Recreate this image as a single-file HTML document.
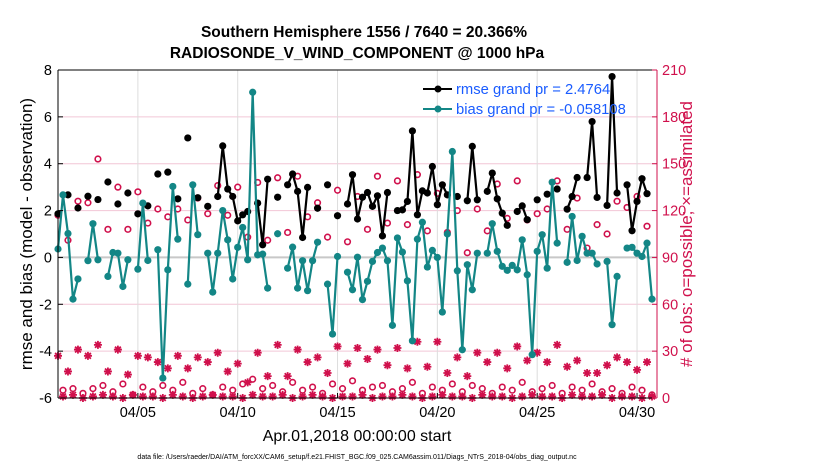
<!DOCTYPE html>
<html><head><meta charset="utf-8"><style>
body{margin:0;background:#fff;font-family:"Liberation Sans",sans-serif}
svg text{font-family:"Liberation Sans",sans-serif}
</style></head><body>
<svg id="chart" width="830" height="470">
<text x="364" y="37" text-anchor="middle" font-size="15.5" font-weight="bold">Southern Hemisphere 1556 / 7640 = 20.366%</text>
<text x="357" y="58" text-anchor="middle" font-size="15.5" font-weight="bold">RADIOSONDE_V_WIND_COMPONENT @ 1000 hPa</text>
<g id="grid"></g><g id="marks"></g><g id="axes"></g>
<text transform="translate(32,234) rotate(-90)" text-anchor="middle" font-size="17">rmse and bias (model - observation)</text>
<text transform="translate(692,234) rotate(-90)" text-anchor="middle" font-size="17" fill="#d0104c"># of obs: o=possible; ×=assimilated</text>
<text x="357" y="441" text-anchor="middle" font-size="16">Apr.01,2018 00:00:00 start</text>
<text x="357" y="459" text-anchor="middle" font-size="7">data file: /Users/raeder/DAI/ATM_forcXX/CAM6_setup/f.e21.FHIST_BGC.f09_025.CAM6assim.011/Diags_NTrS_2018-04/obs_diag_output.nc</text>
<g>
<line x1="423" y1="89" x2="452" y2="89" stroke="#000" stroke-width="2"/><circle cx="438" cy="89" r="3.5" fill="#000"/>
<text x="456" y="94" font-size="14.8" fill="#1a5cff">rmse grand pr = 2.4764</text>
<line x1="423" y1="109" x2="452" y2="109" stroke="#138686" stroke-width="2"/><circle cx="438" cy="109" r="3.5" fill="#138686"/>
<text x="456" y="114" font-size="14.8" fill="#1a5cff">bias grand pr = -0.058108</text>
</g>
</svg>
<script>
const xTickLabels=["04/05","04/10","04/15","04/20","04/25","04/30"];
const xTickDays=[4,9,14,19,24,29];
const yTicks=[-6,-4,-2,0,2,4,6,8];
const rTicks=[0,30,60,90,120,150,180,210];
const rmse=[1.86,null,2.67,null,2.11,null,2.61,null,2.47,null,3.22,null,2.28,null,2.75,null,1.86,null,2.2,null,3.56,null,3.64,null,2.5,null,5.1,null,2.55,null,2.18,null,2.6,4.76,2.92,2.6,1.56,1.82,1.96,null,2.32,0.54,3.34,null,2.57,null,3.1,3.56,2.82,0.85,2.99,null,2.1,null,3.1,null,1.78,null,2.28,3.53,1.64,2.57,2.77,2.18,2.63,0.92,2.77,null,2.0,2.03,2.39,5.4,1.82,2.84,2.75,3.88,2.25,3.1,2.67,null,2.6,null,2.42,4.74,2.46,null,2.82,3.6,2.5,1.89,1.37,null,1.96,2.2,1.61,null,2.46,null,2.7,null,2.92,null,2.06,2.6,3.41,null,3.41,5.8,2.56,null,2.22,7.72,2.75,null,3.1,1.14,2.39,3.36,2.72,null];
const bias=[0.36,2.67,1.02,-1.78,-0.92,null,-0.14,1.44,-0.1,null,-0.81,0.21,0.18,-1.24,-0.1,null,-0.5,2.32,-0.13,null,0.33,-5.15,-0.53,3.03,0.78,null,-1.14,3.1,0.97,null,0.18,-1.48,0.18,2.0,0.75,-0.92,0.43,1.28,-0.1,7.05,0.11,0.14,-1.31,null,1.01,null,-0.46,0.44,-1.31,-0.14,-1.42,-0.14,0.65,null,-1.14,-3.27,0.04,null,-0.63,-1.38,0.01,-1.8,-1.02,-0.17,0.21,0.4,-0.14,-2.9,0.83,0.23,-1.0,-3.56,0.78,1.5,-0.41,0.3,0.0,-2.33,1.0,4.52,-0.57,-3.94,-0.31,-1.38,0.18,null,0.18,1.44,0.26,-0.38,-0.55,-0.34,-0.53,0.75,-0.74,-4.15,0.26,0.97,-0.46,3.21,0.61,null,-0.21,1.75,-0.13,0.9,0.18,0.18,-0.28,null,-0.17,-2.87,-0.81,null,0.4,0.43,0.18,0.04,0.61,-1.78];
const possibleEven=[117,101,126,125,153,108,135,108,132,112,121,116,121,114,128,118,136,117,135,103,138,101,141,106,142,116,125,103,133,100,129,108,142,112,139,111,143,107,131,106,120,93,121,107,137,115,139,114,118,121,139,108,128,96,111,105,126,122,129,110];
const possibleOdd=[5,6,3,6,8,4,9,2,7,4,8,5,10,3,6,2,7,5,9,12,6,8,4,10,5,7,3,9,6,11,5,7,8,4,6,10,3,7,5,9,4,8,6,3,7,5,10,4,6,8,3,7,5,9,4,6,3,7,5,2];
const assimEven=[27,17,31,27,34,17,31,15,27,26,23,19,27,19,26,23,29,17,22,10,29,14,34,14,31,23,26,16,33,22,32,25,31,21,32,19,36,20,36,16,26,14,29,23,29,19,33,24,29,23,34,20,24,16,16,21,26,23,18,23];
const assimOdd=[1,2,0,1,2,1,0,2,1,1,0,2,1,0,1,2,1,1,0,2,1,1,2,0,1,2,1,0,1,1,2,0,1,1,2,1,0,1,2,1,1,0,2,1,1,0,1,2,1,1,0,2,1,1,2,0,1,1,0,1];
const possible=[],assim=[];
for(let k=0;k<60;k++){possible.push(possibleEven[k],possibleOdd[k]);assim.push(assimEven[k],assimOdd[k]);}

const NS="http://www.w3.org/2000/svg";
const X0=58,X1=657,Y0=70,Y1=398;
const xDay=d=>X0+(X1-X0)*d/30;
const xIdx=i=>xDay(i*0.25);
const yL=v=>Y1-(v+6)/14*(Y1-Y0);
const yR=c=>Y1-c/210*(Y1-Y0);
function el(p,tag,a){const e=document.createElementNS(NS,tag);for(const k in a)e.setAttribute(k,a[k]);p.appendChild(e);return e;}
const grid=document.getElementById('grid'),marks=document.getElementById('marks'),axes=document.getElementById('axes');

yTicks.forEach(v=>{if(v===0||v===8||v===-6)return;
 const g=el(grid,'line',{x1:X0,x2:X1,y1:yL(v),y2:yL(v),stroke:'#f2c6d6','stroke-width':1});
 
 });
xTickDays.forEach((d,k)=>{
 const g=el(grid,'line',{x1:xDay(d),x2:xDay(d),y1:Y0,y2:Y1,stroke:'#dddddd','stroke-width':1});
 
 
 el(axes,'line',{x1:xDay(d),x2:xDay(d),y1:Y1,y2:Y1-5,stroke:'#000'});
 const t=el(axes,'text',{x:xDay(d),y:Y1+19,'text-anchor':'middle','font-size':14.5});
 t.textContent=xTickLabels[k];
 
 });
const z=el(grid,'line',{x1:X0,x2:X1,y1:yL(0),y2:yL(0),stroke:'#c8c8c8','stroke-width':2});



possible.forEach((c,i)=>{
 const m=el(marks,'circle',{cx:xIdx(i),cy:yR(c),r:2.8,fill:'#fff',stroke:'#d0104c','stroke-width':1.6});
 
 });
assim.forEach((c,i)=>{
 const x=xIdx(i),y=yR(c),r=4;
 const g=el(marks,'path',{d:`M${x-r} ${y}H${x+r}M${x} ${y-r}V${y+r}M${x-2.9} ${y-2.9}L${x+2.9} ${y+2.9}M${x-2.9} ${y+2.9}L${x+2.9} ${y-2.9}`,stroke:'#d0104c','stroke-width':1.8});
 
 });

function series(arr,col,name){
 let d='';let prev=false;
 arr.forEach((v,i)=>{if(v===null){prev=false;return;}d+=(prev?'L':'M')+xIdx(i)+' '+yL(v);prev=true;});
 const p=el(marks,'path',{d:d,fill:'none',stroke:col,'stroke-width':2.2});
 
 
 arr.forEach((v,i)=>{if(v===null)return;
  const c=el(marks,'circle',{cx:xIdx(i),cy:yL(v),r:3.6,fill:col});
  
  });
}
series(rmse,'#000','rmse');
series(bias,'#138686','bias');

el(axes,'line',{x1:X0,x2:X0,y1:Y0,y2:Y1,stroke:'#000'});
el(axes,'line',{x1:X0,x2:X1,y1:Y0,y2:Y0,stroke:'#000'});
el(axes,'line',{x1:X0,x2:X1,y1:Y1,y2:Y1,stroke:'#000'});
el(axes,'line',{x1:X1,x2:X1,y1:Y0,y2:Y1,stroke:'#d0104c'});
yTicks.forEach(v=>{
 el(axes,'line',{x1:X0,x2:X0+5,y1:yL(v),y2:yL(v),stroke:'#000'});
 const t=el(axes,'text',{x:X0-6,y:yL(v)+5,'text-anchor':'end','font-size':14.5});
 t.textContent=v;
 
 });
rTicks.forEach(c=>{
 el(axes,'line',{x1:X1,x2:X1-5,y1:yR(c),y2:yR(c),stroke:'#d0104c'});
 const t=el(axes,'text',{x:X1+5,y:yR(c)+5,'font-size':14.5,fill:'#d0104c'});
 t.textContent=c;
 
 });
</script>
</body></html>
